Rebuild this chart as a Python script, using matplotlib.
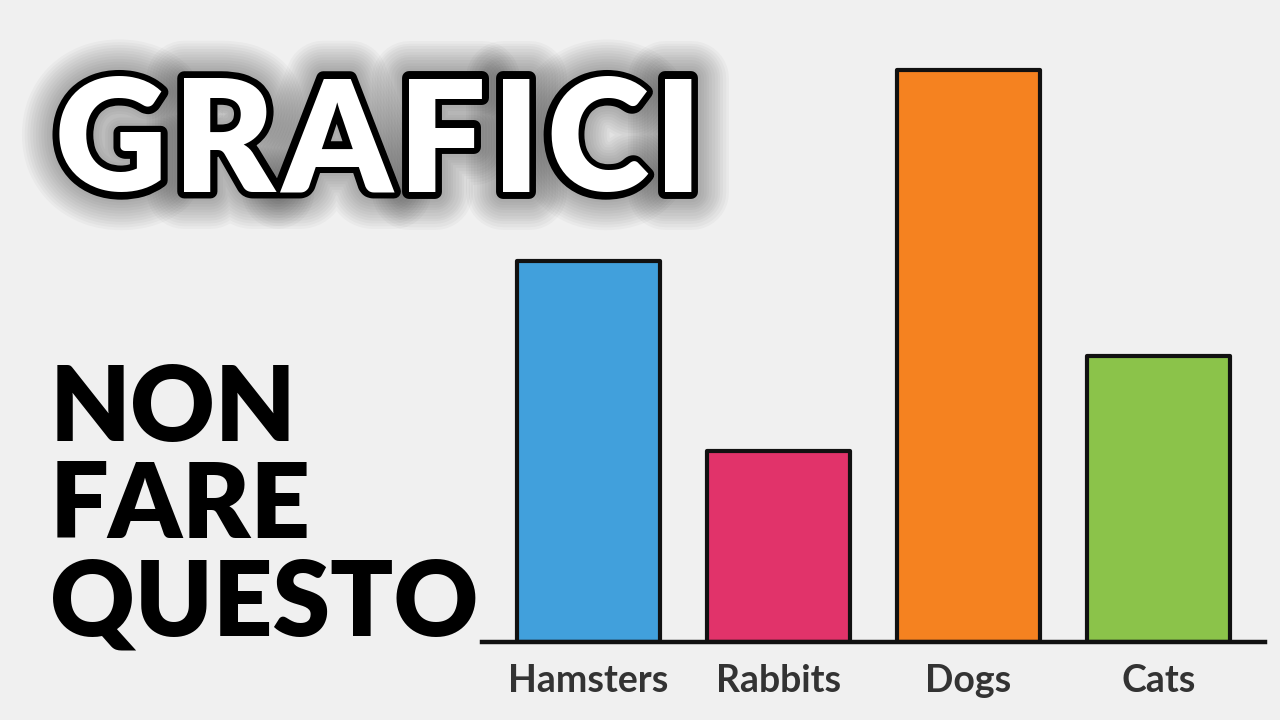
import matplotlib
matplotlib.use("Agg")
import matplotlib.pyplot as plt
import matplotlib.patheffects as pe

categories = ["Hamsters", "Rabbits", "Dogs", "Cats"]
values = [4, 2, 6, 3]
colors = ["#41a0dc", "#e1336a", "#f58220", "#8bc34a"]
title_text = "GRAFICI"
subtitle_lines = ["NON", "FARE", "QUESTO"]

W, H = 1280, 720
fig = plt.figure(figsize=(W / 100, H / 100), dpi=100)
fig.patch.set_facecolor("#f0f0f0")

# Axes: baseline at y=642 px, x from 482 to 1265 px
ax = fig.add_axes([482 / W, (H - 642) / H, (1265 - 482) / W, 642 / H])
ax.set_facecolor("none")
ax.bar(range(len(categories)), values, width=0.75, color=colors,
       edgecolor="#111111", linewidth=3.0, joinstyle="round", zorder=2)
ax.set_xlim(-0.56, 3.56)
ax.set_ylim(0, 6.74)
for s in ["top", "right", "left"]:
    ax.spines[s].set_visible(False)
ax.spines["bottom"].set_linewidth(3.2)
ax.spines["bottom"].set_color("#111111")
ax.spines["bottom"].set_zorder(3)
ax.set_yticks([])
ax.set_xticks(range(len(categories)))
ax.set_xticklabels(categories, fontsize=27, fontweight="bold", color="#333333",
                   family=["Lato", "DejaVu Sans"])
ax.tick_params(axis="x", length=0, pad=16)

# Title: letters placed individually (evenly tracked), outline + soft glow
fam = ["Lato", "DejaVu Sans"]
tsize = 112
x_start, x_end = 55, 702
y_title = 1 - 146 / H
renderer = fig.canvas.get_renderer()


def ink_width(s):
    t = fig.text(0, 0, s, fontsize=tsize, fontweight="heavy", family=fam)
    w = t.get_window_extent(renderer).width
    t.remove()
    return w


widths = [ink_width(c) for c in title_text]
gap = ((x_end - x_start) - sum(widths)) / (len(title_text) - 1)
glow = [pe.withStroke(linewidth=lw, foreground=(0, 0, 0, 0.028))
        for lw in range(54, 12, -4)]
cursor = x_start
for ch, w in zip(title_text, widths):
    xc = cursor + w / 2
    fig.text(xc / W, y_title, ch, ha="center", va="center", fontsize=tsize,
             fontweight="heavy", color="black", family=fam, zorder=1,
             path_effects=glow + [pe.withStroke(linewidth=10, foreground="black")])
    fig.text(xc / W, y_title, ch, ha="center", va="center", fontsize=tsize,
             fontweight="heavy", color="white", family=fam, zorder=2)
    cursor += w + gap

ys = [411, 508, 605]
for line, y in zip(subtitle_lines, ys):
    fig.text(50 / W, 1 - y / H, line, ha="left", va="center",
             fontsize=75, fontweight="heavy", color="black", family=fam)

fig.savefig("out.png", dpi=100, facecolor=fig.get_facecolor())
